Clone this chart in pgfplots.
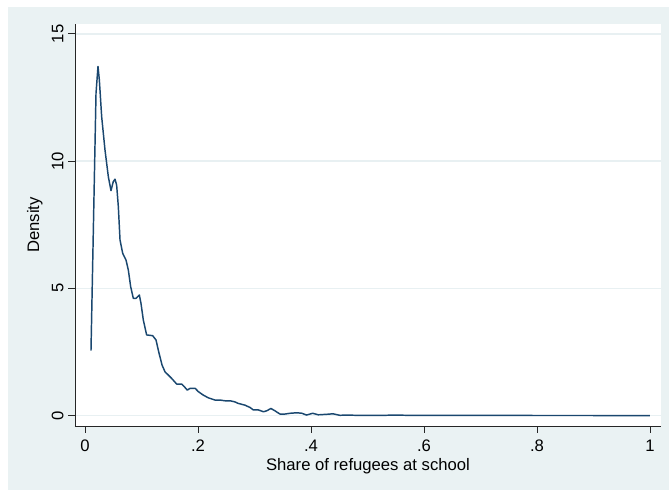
\documentclass[border=0pt]{standalone}
\usepackage{fontspec}
\setmainfont{Liberation Sans}
\usepackage{pgfplots}
\pgfplotsset{compat=1.18}
\definecolor{statabg}{RGB}{234,242,243}
\definecolor{statagrid}{RGB}{232,240,242}
\definecolor{statanavy}{RGB}{26,71,111}

\begin{document}
\begin{tikzpicture}[x=0.75pt,y=0.75pt]
\path[use as bounding box] (0,0) rectangle (669,490);
\fill[statabg] (8,0) rectangle (669,483);
\begin{axis}[
    at={(56.25pt,48pt)}, anchor=south west,
    scale only axis,
    width=439.5pt, height=301.5pt,
    xmin=-0.0177, xmax=1.0195,
    ymin=-0.41, ymax=15.39,
    axis background/.style={fill=white},
    axis x line*=bottom, axis y line*=left,
    axis line style={black!85, line width=0.7pt, -},
    xtick={0,0.2,0.4,0.6,0.8,1},
    xticklabels={0,.2,.4,.6,.8,1},
    ytick={0,5,10,15},
    tick align=outside,
    major tick length=5pt,
    tick style={black!85, line width=0.7pt},
    ymajorgrids,
    grid style={statagrid, line width=1pt},
    font=\fontsize{12.5}{14}\selectfont,
    /pgf/number format/assume math mode=true,
    yticklabel style={rotate=90, anchor=south},
    xticklabel style={yshift=-2pt},
    xlabel={Share of refugees at school},
    ylabel={Density},
    xlabel style={yshift=2pt},
    ylabel style={yshift=0pt},
    clip=false,
]
\addplot[statanavy, line width=1.1pt, line join=round] coordinates {
(0.0106,2.55) (0.0195,12.67) (0.023,13.72) (0.0254,13.19) (0.0295,11.75)
(0.0354,10.44) (0.0413,9.39) (0.046,8.84) (0.050,9.19) (0.0531,9.29)
(0.056,9.06) (0.059,8.21) (0.062,6.90) (0.0667,6.38) (0.0726,6.11)
(0.0767,5.72) (0.0808,5.07) (0.0855,4.61) (0.0903,4.61) (0.0962,4.74)
(0.0991,4.41) (0.1032,3.76) (0.1091,3.17) (0.1198,3.14) (0.1257,2.97)
(0.1304,2.51) (0.1363,1.99) (0.1416,1.72) (0.1475,1.59) (0.1534,1.46)
(0.1622,1.24) (0.1711,1.24) (0.176,1.13) (0.181,1.00) (0.186,1.07)
(0.195,1.07) (0.2006,0.94) (0.209,0.81) (0.218,0.70) (0.230,0.61)
(0.239,0.61) (0.248,0.58) (0.257,0.58) (0.265,0.54) (0.271,0.48)
(0.283,0.41) (0.292,0.32) (0.298,0.22) (0.307,0.22) (0.316,0.15)
(0.322,0.19) (0.329,0.28) (0.336,0.19) (0.345,0.06) (0.354,0.06)
(0.363,0.09) (0.375,0.11) (0.384,0.09) (0.392,0.02) (0.403,0.09)
(0.413,0.03) (0.428,0.05) (0.439,0.07) (0.451,0.01) (0.463,0.02)
(0.48,0.01) (0.50,0.01) (0.53,0.01) (0.55,0.02) (0.57,0.01)
(0.60,0.01) (0.63,0.005) (0.67,0.01) (0.70,0.005) (0.75,0.005)
(0.80,0.003) (0.85,0.003) (0.90,0.002) (0.95,0.002) (1.00,0.002)
};
\end{axis}
\end{tikzpicture}
\end{document}
